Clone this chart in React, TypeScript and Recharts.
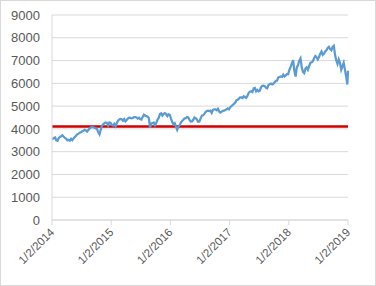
import { LineChart, Line, XAxis, YAxis, CartesianGrid, ReferenceLine } from 'recharts';

// weekly-ish closes, 4 per month, Jan 2014 .. Dec 2018
const years = [2014, 2015, 2016, 2017, 2018];

const values2014 = [
  [3560, 3600, 3620, 3500], [3480, 3600, 3650, 3680], [3720, 3650, 3600, 3560], [3500, 3520, 3480, 3560],
  [3500, 3580, 3640, 3700], [3760, 3790, 3830, 3850], [3900, 3920, 3960, 3930], [3880, 3950, 4020, 4060],
  [4080, 4070, 4050, 4020], [3990, 3850, 3760, 3960], [4130, 4200, 4250, 4280], [4260, 4150, 4280, 4260],
];
const values2015 = [
  [4180, 4150, 4220, 4120], [4250, 4350, 4420, 4440], [4420, 4360, 4430, 4330], [4390, 4450, 4490, 4480],
  [4460, 4480, 4520, 4520], [4500, 4450, 4490, 4430], [4410, 4520, 4620, 4580], [4560, 4540, 4480, 4050],
  [4240, 4250, 4280, 4160], [4260, 4400, 4480, 4650], [4680, 4580, 4660, 4690], [4650, 4560, 4640, 4620],
];
const values2016 = [
  [4450, 4300, 4200, 4250], [4100, 3960, 4100, 4160], [4280, 4350, 4400, 4460], [4470, 4520, 4500, 4390],
  [4320, 4330, 4400, 4500], [4470, 4410, 4310, 4320], [4460, 4580, 4600, 4650], [4740, 4780, 4800, 4780],
  [4800, 4700, 4840, 4860], [4860, 4820, 4880, 4760], [4720, 4760, 4790, 4800], [4830, 4860, 4900, 4860],
];
const values2017 = [
  [4950, 5000, 5050, 5100], [5150, 5250, 5280, 5330], [5380, 5380, 5350, 5430], [5400, 5360, 5450, 5580],
  [5630, 5650, 5620, 5780], [5800, 5650, 5710, 5650], [5680, 5830, 5890, 5900], [5880, 5800, 5780, 5930],
  [5960, 5990, 5950, 5980], [6050, 6100, 6120, 6260], [6280, 6300, 6280, 6380], [6300, 6350, 6400, 6400],
];
const values2018 = [
  [6600, 6720, 6880, 7020], [6550, 6300, 6700, 6800], [7000, 7100, 6700, 6500], [6450, 6650, 6700, 6600],
  [6750, 6900, 6920, 6970], [7100, 7200, 7150, 7050], [7150, 7300, 7400, 7250], [7300, 7400, 7450, 7550],
  [7600, 7500, 7450, 7600], [7650, 7250, 7000, 6850], [7050, 6900, 6600, 6750], [6900, 6600, 6300, 5950],
];
const firstValue = 3563;
const lastValue = 6550;
const threshold = 4100;

const yTicks = [0, 1000, 2000, 3000, 4000, 5000, 6000, 7000, 8000, 9000];
const xTicks = [2014, 2015, 2016, 2017, 2018, 2019];

const allYears = [values2014, values2015, values2016, values2017, values2018];
const data: { t: number; v: number }[] = [{ t: 2014, v: firstValue }];
allYears.forEach((months, yi) => {
  months.forEach((weeks, m) => {
    weeks.forEach((v, k) => {
      data.push({ t: years[yi] + (m + (k + 0.5) / 4) / 12, v });
    });
  });
});
data.push({ t: 2019, v: lastValue });

const font = '"Liberation Sans", Arial, sans-serif';

const XTick = (props: any) => {
  const { x, y, payload } = props;
  const ax = x + 3;
  const ay = y + 6;
  return (
    <text x={ax} y={ay} transform={`rotate(-45, ${ax}, ${ay})`} textAnchor="end"
      fontSize={11.5} fill="#595959" fontFamily={font}>
      {`1/2/${payload.value}`}
    </text>
  );
};

export default function App() {
  return (
    <div style={{ position: 'absolute', left: 0, top: 0, width: 374, height: 284, border: '1px solid #d9d9d9', background: '#fff' }}>
      <LineChart width={374} height={284} data={data} margin={{ top: 14, right: 27, left: 0, bottom: 0 }}>
        <CartesianGrid vertical={false} stroke="#d9d9d9" />
        <XAxis dataKey="t" type="number" domain={[2014, 2019]} ticks={xTicks} interval={0} height={65}
          stroke="#d9d9d9" tickLine={{ stroke: '#d9d9d9' }} tickSize={5} tick={<XTick />} />
        <YAxis domain={[0, 9000]} ticks={yTicks} width={51} axisLine={{ stroke: '#d9d9d9' }} tickLine={false}
          tick={{ fontSize: 13, fill: '#595959', fontFamily: font }} tickMargin={6} interval={0} />
        <ReferenceLine y={threshold} stroke="#d00000" strokeWidth={2.5} />
        <Line type="linear" dataKey="v" stroke="#5b9bd5" strokeWidth={2.25} dot={false} isAnimationActive={false} />
      </LineChart>
    </div>
  );
}
